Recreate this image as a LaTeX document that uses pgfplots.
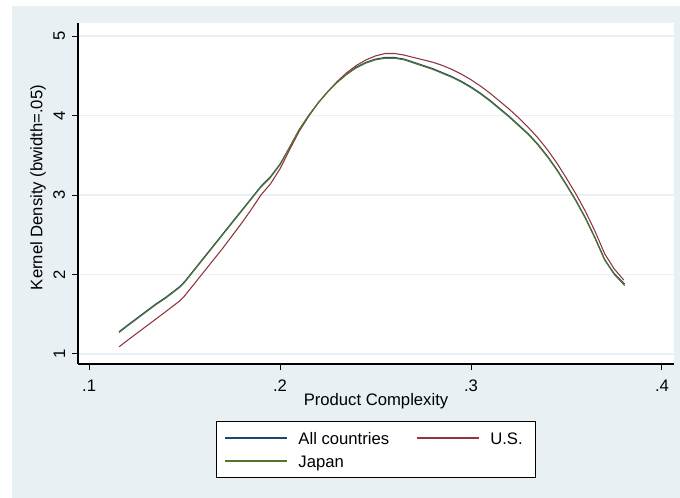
\documentclass[border=0pt]{standalone}
\usepackage{pgfplots}
\pgfplotsset{compat=1.18}
\usepackage{pgfplotstable}
\usepackage{fontspec}
\setmainfont{Liberation Sans}
\definecolor{bgc}{RGB}{232,240,243}
\definecolor{gridc}{RGB}{232,240,243}
\definecolor{snavy}{RGB}{26,71,111}
\definecolor{smaroon}{RGB}{144,53,59}
\definecolor{sgreen}{RGB}{85,117,47}

\pgfplotstableread{
x y
0.1157 1.28
0.120 1.36
0.125 1.45
0.130 1.54
0.135 1.63
0.140 1.71
0.1476 1.85
0.150 1.91
0.155 2.06
0.160 2.21
0.165 2.36
0.170 2.51
0.175 2.66
0.180 2.81
0.185 2.96
0.190 3.11
0.195 3.23
0.200 3.39
0.205 3.60
0.210 3.82
0.215 4.00
0.220 4.16
0.225 4.30
0.230 4.42
0.235 4.52
0.240 4.61
0.245 4.67
0.250 4.71
0.255 4.73
0.260 4.73
0.265 4.71
0.270 4.67
0.275 4.63
0.280 4.59
0.285 4.54
0.290 4.49
0.295 4.43
0.300 4.36
0.305 4.28
0.310 4.19
0.315 4.09
0.320 3.99
0.325 3.88
0.330 3.77
0.335 3.64
0.340 3.49
0.345 3.32
0.350 3.13
0.355 2.93
0.360 2.71
0.365 2.46
0.370 2.19
0.375 2.01
0.3805 1.88
}\allc

\pgfplotstableread{
x y
0.1157 1.09
0.120 1.17
0.125 1.26
0.130 1.35
0.135 1.44
0.140 1.53
0.1476 1.67
0.150 1.73
0.155 1.88
0.160 2.03
0.165 2.18
0.170 2.33
0.175 2.49
0.180 2.65
0.185 2.82
0.190 3.00
0.195 3.14
0.200 3.33
0.205 3.57
0.210 3.80
0.215 3.99
0.220 4.16
0.225 4.30
0.230 4.43
0.235 4.54
0.240 4.63
0.245 4.70
0.250 4.75
0.255 4.78
0.260 4.78
0.265 4.76
0.270 4.73
0.275 4.70
0.280 4.67
0.285 4.63
0.290 4.58
0.295 4.52
0.300 4.45
0.305 4.37
0.310 4.28
0.315 4.18
0.320 4.08
0.325 3.97
0.330 3.85
0.335 3.72
0.340 3.57
0.345 3.40
0.350 3.21
0.355 3.01
0.360 2.79
0.365 2.54
0.370 2.26
0.375 2.07
0.380 1.93
}\usa

\pgfplotstableread{
x y
0.1157 1.27
0.120 1.35
0.125 1.44
0.130 1.53
0.135 1.62
0.140 1.70
0.1476 1.84
0.150 1.90
0.155 2.05
0.160 2.20
0.165 2.35
0.170 2.50
0.175 2.65
0.180 2.80
0.185 2.95
0.190 3.10
0.195 3.22
0.200 3.38
0.205 3.60
0.210 3.82
0.215 4.00
0.220 4.16
0.225 4.30
0.230 4.42
0.235 4.52
0.240 4.60
0.245 4.66
0.250 4.70
0.255 4.72
0.260 4.72
0.265 4.70
0.270 4.66
0.275 4.62
0.280 4.58
0.285 4.53
0.290 4.48
0.295 4.42
0.300 4.35
0.305 4.27
0.310 4.18
0.315 4.08
0.320 3.98
0.325 3.87
0.330 3.76
0.335 3.63
0.340 3.48
0.345 3.31
0.350 3.12
0.355 2.92
0.360 2.70
0.365 2.45
0.370 2.18
0.375 2.00
0.3805 1.86
}\japan

\begin{document}
\begin{tikzpicture}
\fill[white] (0,0) rectangle (510pt,373.5pt);
\fill[bgc] (9pt,0) rectangle (510pt,369pt);
\begin{axis}[
  at={(58.5pt,100.5pt)}, anchor=south west,
  scale only axis, width=447pt, height=255.75pt,
  xmin=0.0942, xmax=0.4063, ymin=0.874, ymax=5.164,
  axis x line*=bottom, axis y line*=left,
  axis line style={-, black, line width=1pt},
  axis background/.style={fill=white},
  xtick={0.1,0.2,0.3,0.4}, xticklabels={.1,.2,.3,.4},
  ytick={1,2,3,4,5}, yticklabels={1,2,3,4,5},
  tick align=outside, major tick length=4.5pt,
  tick style={black, line width=0.75pt},
  ymajorgrids, grid style={gridc, line width=0.9pt},
  font=\fontsize{12.5}{14}\selectfont,
  /pgf/number format/assume math mode=true,
  xticklabel style={anchor=north, inner sep=0pt},
  xticklabel shift=7pt,
  yticklabel style={rotate=90, anchor=south, inner sep=0pt},
  yticklabel shift=5pt,
  xlabel={Product Complexity},
  xlabel style={at={(axis description cs:0.5,-0.1085)}, anchor=center},
  ylabel={Kernel Density (bwidth=.05)},
  ylabel style={at={(axis description cs:-0.0671,0.5176)}, anchor=center, rotate=0},
  legend columns=2,
  legend image code/.code={\draw[#1, line width=0.8pt] (0pt,0pt) -- (46.5pt,0pt);},
  legend style={
    at={(axis description cs:0.5,-0.2507)}, anchor=center,
    draw=black, line width=0.75pt, fill=white,
    font=\fontsize{12.5}{14}\selectfont,
    inner xsep=6pt, inner ysep=5.4pt,
    row sep=3.25pt,
    nodes={inner sep=0pt, text height=12pt, text depth=2pt},
    /tikz/every odd column/.append style={column sep=8.25pt},
    /tikz/every even column/.append style={column sep=20.25pt},
  },
  legend cell align=left,
]
\addplot[snavy, line width=0.8pt] table[x=x,y=y] {\allc};
\addlegendentry{All countries}
\addplot[smaroon, line width=0.8pt] table[x=x,y=y] {\usa};
\addlegendentry{\makebox[28pt][l]{U.S.}}
\addplot[sgreen, line width=0.8pt] table[x=x,y=y] {\japan};
\addlegendentry{Japan}
\end{axis}
\end{tikzpicture}
\end{document}
